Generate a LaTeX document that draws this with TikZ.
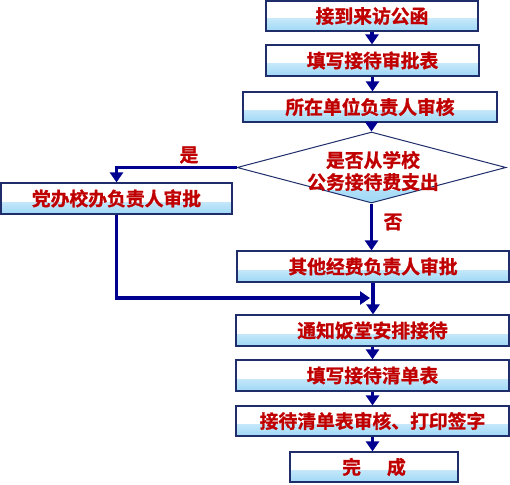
\documentclass[tikz,border=0pt]{standalone}
\usepackage{fontspec}
\newfontfamily\cjk{Noto Sans CJK SC}[BoldFont={Noto Sans CJK SC Bold},BoldFeatures={FakeBold=1.2}]
\usetikzlibrary{arrows.meta,shapes.geometric}
\definecolor{txtred}{HTML}{C00000}
\definecolor{bordc}{HTML}{1F2D6B}
\definecolor{arrc}{HTML}{000090}
\definecolor{shadec}{HTML}{9ED8F6}
\tikzset{
  boxshade/.style={path picture={\shade[top color=white,bottom color=shadec]
      ([yshift=12pt]path picture bounding box.south west) rectangle (path picture bounding box.south east);}},
  cjktext/.style={text=txtred, font=\cjk\bfseries\fontsize{18.8}{22}\selectfont},
  flowbox/.style={rectangle, draw=bordc, line width=1.2pt, fill=white, boxshade, inner sep=0pt, cjktext},
  decbox/.style={diamond, draw=bordc, line width=1pt, fill=white, boxshade, inner sep=0pt,
      minimum width=269pt, minimum height=71pt},
  lbl/.style={cjktext, inner sep=0pt},
  arr/.style={draw=arrc, line width=3.8pt, -{Triangle[width=13pt,length=10pt]}},
}
\begin{document}
\begin{tikzpicture}[x=1pt,y=-1pt]
\fill[white] (0,0) rectangle (510,484);
\useasboundingbox (0,0) rectangle (510,484);

\node[flowbox, minimum width=212pt, minimum height=30pt] (b1) at (372,16) {接到来访公函};
\node[flowbox, minimum width=213pt, minimum height=31pt] (b2) at (372.5,60.5) {填写接待审批表};
\node[flowbox, minimum width=254pt, minimum height=30pt] (b3) at (370,107) {所在单位负责人审核};
\node[decbox] (d) at (371.5,167.5) {};
\node[lbl, align=center] (dt) at (373,171) {是否从学校\\公务接待费支出};
\node[flowbox, minimum width=231pt, minimum height=31pt] (b4) at (116.5,198.5) {党办校办负责人审批};
\node[flowbox, minimum width=272pt, minimum height=31pt] (b5) at (373,266.5) {其他经费负责人审批};
\node[flowbox, minimum width=273pt, minimum height=31pt] (b6) at (372.5,330.5) {通知饭堂安排接待};
\node[flowbox, minimum width=273pt, minimum height=31pt] (b7) at (372.5,375.5) {填写接待清单表};
\node[flowbox, minimum width=273pt, minimum height=30pt] (b8) at (372.5,421) {接待清单表审核、打印签字};
\node[flowbox, minimum width=168pt, minimum height=30pt] (b9) at (374,467) {完\hspace{26pt}成};

\node[lbl] (yes) at (189,155) {是};
\node[lbl] (no) at (393,222) {否};

\coordinate (m) at (370,298);

\draw[arr] (b1.south) -- (b1.south |- b2.north);
\draw[arr] (b2.south) -- (b2.south |- b3.north);
\draw[arr] (d.north |- b3.south) -- (d.north);
\draw[arr] (d.west) -| (b4.north);
\draw[arr] (d.south) -- (d.south |- b5.north);
\draw[arr] (b4.south) |- (m);
\draw[arr] (b5.south) -- (b5.south |- b6.north);
\draw[arr] (b6.south) -- (b6.south |- b7.north);
\draw[arr] (b7.south) -- (b7.south |- b8.north);
\draw[arr] (b8.south) -- (b8.south |- b9.north);
\end{tikzpicture}
\end{document}
